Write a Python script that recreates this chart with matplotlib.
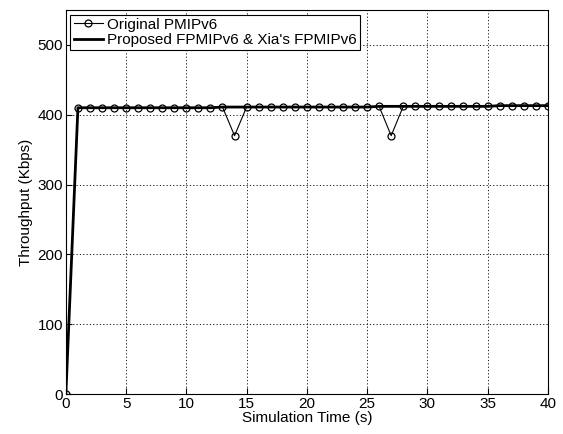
import matplotlib
matplotlib.use("Agg")
import matplotlib.pyplot as plt

plt.rcParams['font.family'] = ['Liberation Sans', 'DejaVu Sans']

# simulation time (s)
time_s = list(range(0, 41))

# throughput (Kbps)
original_pmipv6 = [0, 410, 410, 410, 410, 410, 410, 410, 410, 410,
                   410, 410, 410, 411, 370, 411, 411, 411, 411, 411,
                   411, 411, 411, 411, 411, 411, 412, 370, 412, 412,
                   412, 412, 412, 412, 412, 412, 413, 413, 413, 413, 413]
proposed_fpmipv6 = [0, 410, 410, 410, 410, 410, 410, 410, 410, 410,
                    410, 410, 410, 411, 411, 411, 411, 411, 411, 411,
                    411, 411, 411, 411, 411, 411, 412, 412, 412, 412,
                    412, 412, 412, 412, 412, 412, 413, 413, 413, 413, 413]

x_ticks = [0, 5, 10, 15, 20, 25, 30, 35, 40]
y_ticks = [0, 100, 200, 300, 400, 500]

fig = plt.figure(figsize=(5.63, 4.34), dpi=100)
ax = fig.add_axes([0.117, 0.092, 0.856, 0.885])

ax.plot(time_s, original_pmipv6, color='black', linewidth=0.8,
        marker='o', markersize=5, markerfacecolor='none',
        markeredgewidth=0.9, label='Original PMIPv6')
ax.plot(time_s, proposed_fpmipv6, color='black', linewidth=2.0,
        label="Proposed FPMIPv6 & Xia's FPMIPv6")

ax.set_xlim(0, 40)
ax.set_ylim(0, 550)
ax.set_xticks(x_ticks)
ax.set_yticks(y_ticks)
ax.tick_params(direction='in', labelsize=11, length=4, pad=2, top=False, right=False)
ax.grid(True, color='black', linestyle=(0, (1.5, 2.5)), linewidth=0.6)

for s in ax.spines.values():
    s.set_linewidth(0.8)

ax.set_xlabel('Simulation Time (s)', fontsize=11, labelpad=0)
ax.set_ylabel('Throughput (Kbps)', fontsize=11, labelpad=3)

leg = ax.legend(loc='upper left', fontsize=11, frameon=True, fancybox=False,
                edgecolor='black', framealpha=1, borderpad=0.2,
                labelspacing=0.1, handlelength=1.9, handletextpad=0.3,
                borderaxespad=0.3)
leg.get_frame().set_linewidth(0.8)

fig.savefig('out.png', dpi=100)
